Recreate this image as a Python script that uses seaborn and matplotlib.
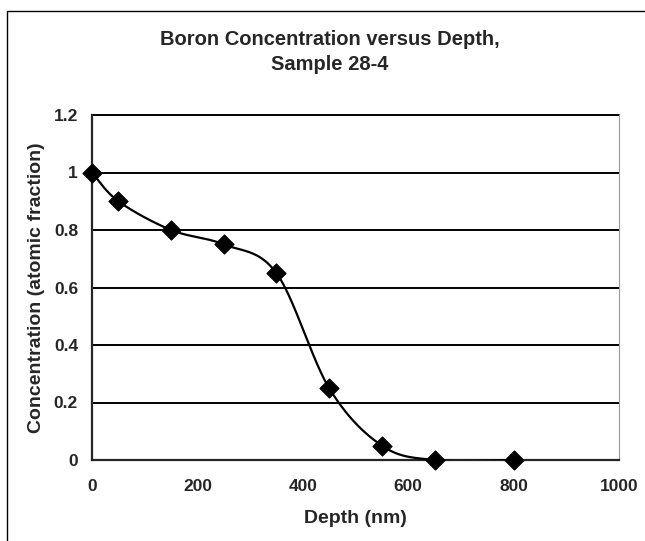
import numpy as np
import pandas as pd
import matplotlib
matplotlib.use("Agg")
import matplotlib.pyplot as plt
import seaborn as sns
from matplotlib.patches import Rectangle

# data
depth = [0, 50, 150, 250, 350, 450, 550, 650, 800]
concentration = [1.0, 0.9, 0.8, 0.75, 0.65, 0.25, 0.05, 0.0, 0.0]
x_ticks = [0, 200, 400, 600, 800, 1000]
y_ticks = [0, 0.2, 0.4, 0.6, 0.8, 1.0, 1.2]
y_tick_labels = ["0", "0.2", "0.4", "0.6", "0.8", "1", "1.2"]

sns.set_style("white")
plt.rcParams['font.family'] = ['Liberation Sans', 'DejaVu Sans']
plt.rcParams['font.weight'] = 'bold'

df = pd.DataFrame({"depth": depth, "conc": concentration})


# Excel-like smoothed line (Catmull-Rom style bezier through the points)
def smooth_curve(xs, ys, n=40):
    p = np.column_stack([xs, ys]).astype(float)
    ext = np.vstack([p[0], p, p[-1]])
    out = []
    for i in range(len(p) - 1):
        p0, p1, p2, p3 = ext[i], ext[i + 1], ext[i + 2], ext[i + 3]
        c1 = p1 + (p2 - p0) / 6.0
        c2 = p2 - (p3 - p1) / 6.0
        t = np.linspace(0, 1, n)[:, None]
        seg = ((1 - t) ** 3) * p1 + 3 * ((1 - t) ** 2) * t * c1 + 3 * (1 - t) * t ** 2 * c2 + t ** 3 * p2
        out.append(seg if i == 0 else seg[1:])
    out = np.vstack(out)
    return out[:, 0], out[:, 1]


sx, sy = smooth_curve(df["depth"], df["conc"])
curve = pd.DataFrame({"x": sx, "y": sy})

W, H = 645, 541
fig = plt.figure(figsize=(W / 100, H / 100), dpi=100)
ax = fig.add_axes([92 / W, 1 - 460 / H, (619 - 92) / W, (460 - 115) / H])

# outer chart border (right and bottom edges run off the picture)
fig.patches.append(Rectangle((6.5 / W, -0.02), 1.0, 1 - 11 / H + 0.02,
                             transform=fig.transFigure, fill=False,
                             edgecolor="black", linewidth=1.0))

for yv in y_ticks[1:]:
    ax.axhline(yv, color="black", linewidth=1.4, zorder=1, clip_on=False)

sns.lineplot(data=curve, x="x", y="y", sort=False, color="black",
             linewidth=1.6, ax=ax, zorder=3)
sns.scatterplot(data=df, x="depth", y="conc", marker="D", s=95,
                color="black", edgecolor="black", ax=ax, zorder=4, clip_on=False)

ax.set_xlim(0, 1000)
ax.set_ylim(0, 1.2)
ax.set_xticks(x_ticks)
ax.set_xticklabels([str(v) for v in x_ticks], fontsize=12.5, fontweight="bold")
ax.set_yticks(y_ticks)
ax.set_yticklabels(y_tick_labels, fontsize=12.5, fontweight="bold")
ax.tick_params(axis="x", direction="inout", length=7, width=1.3, pad=10)
ax.tick_params(axis="y", direction="out", length=4, width=1.3, pad=6)

ax.spines["left"].set_linewidth(1.6)
ax.spines["bottom"].set_linewidth(1.6)
ax.spines["top"].set_visible(False)
ax.spines["right"].set_color("#999999")
ax.spines["right"].set_linestyle((0, (1, 1)))
ax.spines["right"].set_linewidth(0.8)

ax.set_xlabel("Depth (nm)", fontsize=14, fontweight="bold")
ax.set_ylabel("Concentration (atomic fraction)", fontsize=14, fontweight="bold")
ax.xaxis.set_label_coords((355 - 92) / (619 - 92), -(510 - 460) / (460 - 115))
ax.yaxis.set_label_coords(-(92 - 45) / (619 - 92), 0.5)

fig.text(330 / W, 1 - 45 / H, "Boron Concentration versus Depth,", ha="center", va="baseline",
         fontsize=14.5, fontweight="bold")
fig.text(330 / W, 1 - 70 / H, "Sample 28-4", ha="center", va="baseline",
         fontsize=14.5, fontweight="bold")

fig.savefig("out.png", dpi=100)
